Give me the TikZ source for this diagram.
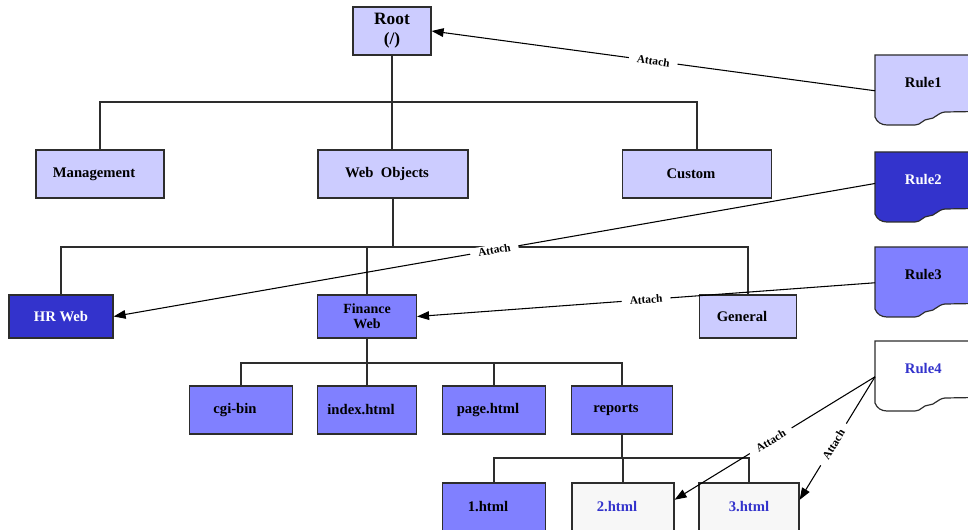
\documentclass[tikz,border=0pt]{standalone}
\usepackage{fontspec}
\setmainfont{Liberation Serif}
\usetikzlibrary{arrows.meta,calc,backgrounds}
\definecolor{lav}{RGB}{204,204,255}
\definecolor{dblue}{RGB}{51,51,204}
\definecolor{mblue}{RGB}{128,128,255}
\definecolor{lgray}{RGB}{247,247,247}
\definecolor{bord}{RGB}{45,45,45}
\begin{document}
\begin{tikzpicture}[x=0.75pt,y=-0.75pt,
  box/.style 2 args={draw=bord, line width=0.9pt, minimum width=#1*0.75pt, minimum height=#2*0.75pt,
    inner sep=1pt, align=center, font=\fontsize{11}{12}\selectfont\bfseries},
  lshift/.style={execute at end node={\hspace{9pt}}},
  lavbox/.style={fill=lav},
  dbox/.style={fill=dblue, text=white},
  mbox/.style={fill=mblue},
  gbox/.style={fill=lgray, text=dblue},
  rulebox/.style={minimum width=96*0.75pt, minimum height=54*0.75pt, inner sep=0pt,
    anchor=north west, font=\fontsize{11}{12}\selectfont\bfseries},
  rshape/.style={draw=bord, line width=0.9pt},
  tree/.style={draw=bord, line width=0.9pt},
  att/.style={draw=black, line width=0.8pt, -{Triangle[length=9pt,width=6.5pt]}},
  lab/.style={sloped, fill=white, inner xsep=6pt, inner ysep=1pt, font=\fontsize{8.5}{9}\selectfont\bfseries}
]
\useasboundingbox (0,0) rectangle (968,530);
\clip (0,0) rectangle (968,530);

% level 0/1
\node[box={78}{48}, lavbox, font=\fontsize{13}{15}\selectfont\bfseries] (root) at (392,31) {Root\\(/)};
\node[box={128}{48}, lavbox, lshift] (mgmt) at (100,174) {Management};
\node[box={150}{48}, lavbox, lshift] (webobj) at (393,174) {Web\ \ Objects};
\node[box={149}{48}, lavbox, lshift] (custom) at (697,174) {Custom};

% level 2
\node[box={104}{43}, dbox] (hrweb) at (61,316.5) {HR Web};
\node[box={99}{43}, mbox, font=\fontsize{10.5}{11}\selectfont\bfseries] (finance) at (367,316.5) {Finance\\Web};
\node[box={97}{43}, lavbox, lshift] (general) at (748,316.5) {General};

% level 3
\node[box={103}{48}, mbox, lshift] (cgibin) at (241,410) {cgi-bin};
\node[box={99}{48}, mbox, lshift] (index) at (367,410) {index.html};
\node[box={103}{48}, mbox, lshift] (page) at (494,410) {page.html};
\node[box={101}{48}, mbox, lshift] (reports) at (622,410) {reports};

% level 4
\node[box={103}{48}, mbox, lshift] (h1) at (494,507) {1.html};
\node[box={102}{48}, gbox, lshift] (h2) at (623,507) {2.html};
\node[box={100}{48}, gbox] (h3) at (749,507) {3.html};

% rules
\node[rulebox] (r1) at (875,55) {Rule1};
\node[rulebox, text=white] (r2) at (875,152) {Rule2};
\node[rulebox] (r3) at (875,247) {Rule3};
\node[rulebox, text=dblue] (r4) at (875,341) {Rule4};

\begin{scope}[on background layer]
  \foreach \n/\c in {r1/lav, r2/dblue, r3/mblue, r4/white}{
    \begin{scope}[shift={(\n.north west)}]
      \draw[rshape, fill=\c] (0,0) -- (0,62) .. controls (2,67) and (6,70) .. (12,70)
        -- (40,70) .. controls (46,70) and (48,64) .. (54,64)
        .. controls (60,64) and (62,58) .. (70,57) -- (130,56) -- (130,0) -- cycle;
    \end{scope}
  }
\end{scope}

% tree connectors
\coordinate (b1) at (0,102);
\coordinate (b2) at (0,247);
\coordinate (b3) at (0,363);
\coordinate (b4) at (0,458);
\draw[tree] (mgmt.north) |- (custom.north |- b1) -- (custom.north);
\draw[tree] (root.south) -- (root.south |- webobj.north);
\draw[tree] (webobj.south) -- (webobj.south |- b2);
\draw[tree] (hrweb.north) |- (general.north |- b2) -- (general.north);
\draw[tree] (finance.north) -- (finance.north |- b2);
\draw[tree] (finance.south) -- (finance.south |- b3);
\draw[tree] (cgibin.north) |- (reports.north |- b3) -- (reports.north);
\draw[tree] (index.north) -- (index.north |- b3);
\draw[tree] (page.north) -- (page.north |- b3);
\draw[tree] (reports.south) -- (reports.south |- b4);
\draw[tree] (h1.north) |- (h3.north |- b4) -- (h3.north);
\draw[tree] (h2.north) -- (h2.north |- b4);

% attach arrows
\draw[att] (r1.190) -- node[lab, pos=0.5] (a1) {Attach} (root.east);
\draw[att] (r2.185) -- node[lab, pos=0.5] (a2) {Attach} (hrweb.east);
\draw[att] (r3.190) -- node[lab, pos=0.5] (a3) {Attach} (finance.east);
\draw[att] (r4.190) -- node[lab, pos=0.52] (a4) {Attach} (h2.8);
\draw[att] (r4.190) -- node[lab, pos=0.55] (a5) {Attach} (h3.8);
\end{tikzpicture}
\end{document}
